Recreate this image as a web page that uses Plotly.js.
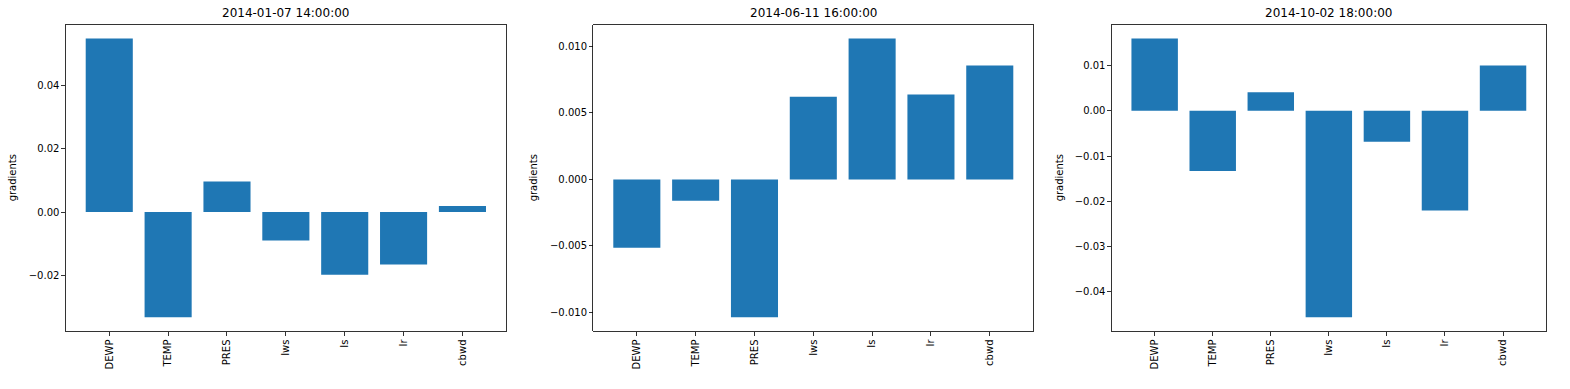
<!DOCTYPE html>
<html>
<head>
<meta charset="utf-8">
<script src="https://cdn.plot.ly/plotly-3.0.1.min.js"></script>
<style>html,body{margin:0;padding:0;background:#fff;}#chart{width:1570px;height:389px;}</style>
</head>
<body>
<div id="chart"></div>
<script>
var categories = ['DEWP', 'TEMP', 'PRES', 'Iws', 'Is', 'Ir', 'cbwd'];
var titles = ['2014-01-07 14:00:00', '2014-06-11 16:00:00', '2014-10-02 18:00:00'];
var grad_20140107 = [0.0550, -0.0333, 0.0097, -0.0090, -0.0198, -0.0166, 0.0019];
var grad_20140611 = [-0.00514, -0.0016, -0.01035, 0.0062, 0.01058, 0.00637, 0.00855];
var grad_20141002 = [0.0160, -0.0133, 0.0041, -0.0456, -0.0068, -0.0220, 0.0100];
var yTickFormats = ['.2f', '.3f', '.2f'];
var yTickSteps = [0.02, 0.005, 0.01];
var yLabel = 'gradients';

var series = [grad_20140107, grad_20140611, grad_20141002];
var W = 1570, H = 389;
var xPix = [[65.7, 506], [593.3, 1033.3], [1111.7, 1546]];
var yPix = [24.5, 331.2];
var yLabelX = [12.5, 533.5, 1059.5];
var font = {family: 'DejaVu Sans, sans-serif', size: 10, color: '#000'};

function padRange(arr) {
  var lo = Math.min(0, Math.min.apply(null, arr));
  var hi = Math.max(0, Math.max.apply(null, arr));
  var m = (hi - lo) * 0.05;
  return [lo - m, hi + m];
}

var data = [];
var layout = {
  width: W, height: H,
  margin: {l: 0, r: 0, t: 0, b: 0},
  paper_bgcolor: '#fff', plot_bgcolor: '#fff',
  showlegend: false,
  bargap: 0.2,
  font: font,
  annotations: []
};

for (var i = 0; i < 3; i++) {
  var sx = i === 0 ? '' : String(i + 1);
  data.push({
    type: 'bar',
    x: categories,
    y: series[i],
    xaxis: 'x' + sx,
    yaxis: 'y' + sx,
    width: 0.8,
    marker: {color: '#1f77b4', line: {width: 0}},
    hoverinfo: 'x+y'
  });
  var yd = [(H - yPix[1]) / H, (H - yPix[0]) / H];
  layout['xaxis' + sx] = {
    domain: [xPix[i][0] / W, xPix[i][1] / W],
    anchor: 'y' + sx,
    type: 'category',
    range: [-0.74, 6.74],
    showline: true, mirror: true, linecolor: '#000', linewidth: 0.8,
    ticks: 'outside', ticklen: 3.5, tickwidth: 0.8, tickcolor: '#000',
    tickangle: -90,
    showgrid: false, zeroline: false,
    tickfont: font
  };
  layout['yaxis' + sx] = {
    domain: yd,
    anchor: 'x' + sx,
    range: padRange(series[i]),
    dtick: yTickSteps[i], tick0: 0,
    tickformat: yTickFormats[i],
    showline: true, mirror: true, linecolor: '#000', linewidth: 0.8,
    ticks: 'outside', ticklen: 3.5, tickwidth: 0.8, tickcolor: '#000',
    showgrid: false, zeroline: false,
    tickfont: font
  };
  layout.annotations.push({
    text: titles[i],
    xref: 'paper', yref: 'paper',
    x: (xPix[i][0] + xPix[i][1]) / 2 / W,
    y: (H - 13.5) / H,
    xanchor: 'center', yanchor: 'middle',
    showarrow: false,
    font: {family: 'DejaVu Sans, sans-serif', size: 12, color: '#000'}
  });
  layout.annotations.push({
    text: yLabel,
    xref: 'paper', yref: 'paper',
    x: yLabelX[i] / W,
    y: (H - (yPix[0] + yPix[1]) / 2) / H,
    xanchor: 'center', yanchor: 'middle',
    textangle: -90,
    showarrow: false,
    font: font
  });
}

Plotly.newPlot('chart', data, layout, {displayModeBar: false, staticPlot: true});
</script>
</body>
</html>
